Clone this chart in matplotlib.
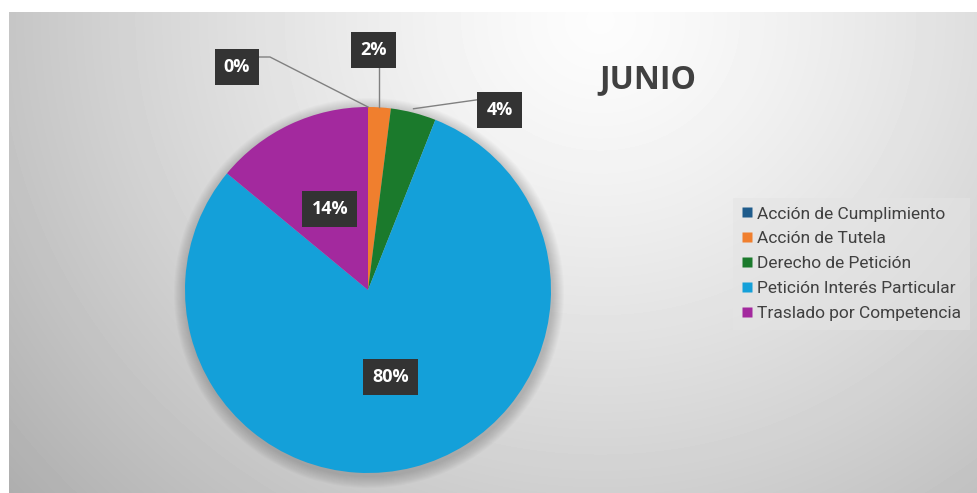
import numpy as np
import matplotlib.pyplot as plt
from matplotlib.patches import Circle
from matplotlib.lines import Line2D

# Datos de junio (% por tipo de solicitud)
categorias = ['Acción de Cumplimiento', 'Acción de Tutela', 'Derecho de Petición',
              'Petición Interés Particular', 'Traslado por Competencia']
porcentajes = [0, 2, 4, 80, 14]
etiquetas = ['0%', '2%', '4%', '80%', '14%']
colores = ['#1f5c8c', '#f07f2e', '#1b7a2c', '#14a0d9', '#a3299e']

W, H = 978, 493
fig = plt.figure(figsize=(W / 100, H / 100), dpi=100)
fig.patch.set_facecolor('white')

# Fondo gris con degradado radial
x0, y0 = 9, 12
fondo = fig.add_axes([x0 / W, 0, 1 - x0 / W, (H - y0) / H])
xx, yy = np.meshgrid(np.arange(x0, W), np.arange(y0, H))
d = np.sqrt(((xx - 600) / 600.0) ** 2 + ((yy - 20) / 560.0) ** 2)
brillo = np.clip(0.99 - 0.22 * d ** 1.3, 0, 1)
fondo.imshow(brillo, cmap='gray', vmin=0, vmax=1, aspect='auto', interpolation='bilinear')
fondo.axis('off')

ax = fig.add_axes([0, 0, 1, 1])
ax.patch.set_alpha(0)

cx, cy, R = 368, H - 290, 183

# Sombra suave bajo el pastel
for k in range(12):
    ax.add_patch(Circle((cx + 1, cy - 3), R + 12 - k, color='black', alpha=0.014, lw=0))

wedges = ax.pie(porcentajes, colors=colores, startangle=90, counterclock=False,
                center=(cx, cy), radius=R, wedgeprops=dict(linewidth=0))[0]
ax.set_xlim(0, W)
ax.set_ylim(0, H)
ax.set_aspect('auto')
ax.axis('off')

caja = dict(boxstyle='square,pad=0.5', fc='#333333', ec='none')
texto = dict(color='white', fontsize=13, fontweight='bold', family='Open Sans',
             ha='center', va='center')

# desplazamiento (px) de las etiquetas externas respecto al borde del sector
externas = {0: (-131, 40), 1: (-6, 57), 2: (86, 3)}

for i, w in enumerate(wedges):
    ang = np.deg2rad((w.theta1 + w.theta2) / 2)
    if i in externas:
        ex, ey = cx + R * np.cos(ang), cy + R * np.sin(ang)
        dx, dy = externas[i]
        tx, ty = ex + dx, ey + dy
        if i == 0:
            ax.plot([ex, tx + 33, tx + 22], [ey, ty + 10, ty + 10], color='#808080', lw=1)
        elif i == 1:
            ax.plot([ex, ex], [ey, ty - 16], color='#808080', lw=1)
        else:
            ax.plot([ex, tx - 22], [ey + 4, ty + 10], color='#808080', lw=1)
        ax.text(tx, ty, etiquetas[i], bbox=caja, **texto)
    else:
        ax.text(cx + 0.49 * R * np.cos(ang), cy + 0.49 * R * np.sin(ang),
                etiquetas[i], bbox=caja, **texto)

ax.text(648, H - 80, 'JUNIO', fontsize=23, fontweight='bold', family='Open Sans',
        color='#404040', ha='center', va='center')

handles = [Line2D([], [], marker='s', ls='none', markersize=7, markerfacecolor=c,
                  markeredgecolor='none') for c in colores]
leg = fig.legend(handles, categorias, loc='upper left', bbox_to_anchor=(724 / W, 1 - 189 / H),
                 frameon=True, fancybox=False, handlelength=0.6, handletextpad=0.3,
                 labelspacing=0.56, borderpad=0.5, prop={'family': 'Roboto', 'size': 12.5})
leg.get_frame().set_facecolor('#e4e4e4')
leg.get_frame().set_alpha(0.5)
leg.get_frame().set_edgecolor('none')
for t in leg.get_texts():
    t.set_color('#404040')

fig.savefig('out.png', dpi=100)
